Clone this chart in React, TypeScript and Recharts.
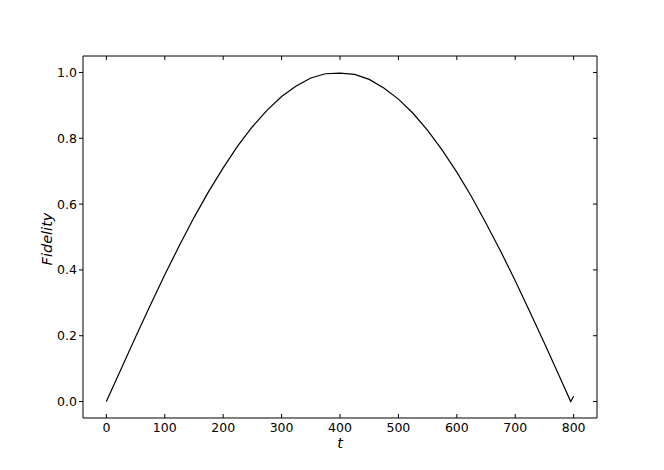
import React from "react";
import { LineChart, Line, XAxis, YAxis, Label } from "recharts";

const tValues = [0, 25, 50, 75, 100, 125, 150, 175, 200, 225, 250, 275, 300, 325, 350, 375, 400, 425, 450, 475, 500, 525, 550, 575, 600, 625, 650, 675, 700, 725, 750, 775, 795, 800];
const fidelity = [0.0, 0.098, 0.196, 0.292, 0.385, 0.474, 0.559, 0.638, 0.71, 0.777, 0.835, 0.885, 0.927, 0.959, 0.983, 0.996, 0.998, 0.994, 0.979, 0.953, 0.919, 0.876, 0.824, 0.764, 0.697, 0.623, 0.542, 0.457, 0.367, 0.273, 0.177, 0.079, 0.0, 0.016];
const xTicks = [0, 100, 200, 300, 400, 500, 600, 700, 800];
const yTicks = [0.0, 0.2, 0.4, 0.6, 0.8, 1.0];

const data = tValues.map((t, i) => ({ t, f: fidelity[i] }));

const FONT = "DejaVu Sans";
const TICK_FS = 12.5;
const LABEL_FS = 14.5;
const TL = 4;

const BottomTick = (props: any) => {
  const { x, y, payload } = props;
  return (
    <g>
      <line x1={x} x2={x} y1={y} y2={y - TL} stroke="#000" strokeWidth={1} />
      <text x={x} y={y + 4} dy="0.76em" textAnchor="middle" fontSize={TICK_FS} fontFamily={FONT} fill="#000">
        {payload.value}
      </text>
    </g>
  );
};

const TopTick = (props: any) => {
  const { x, y } = props;
  return <line x1={x} x2={x} y1={y} y2={y + TL} stroke="#000" strokeWidth={1} />;
};

const LeftTick = (props: any) => {
  const { x, y, payload } = props;
  return (
    <g>
      <line x1={x} x2={x - TL} y1={y} y2={y} stroke="#000" strokeWidth={1} />
      <text x={x - 6} y={y} dy="0.36em" textAnchor="end" fontSize={TICK_FS} fontFamily={FONT} fill="#000">
        {Number(payload.value).toFixed(1)}
      </text>
    </g>
  );
};

const RightTick = (props: any) => {
  const { x, y } = props;
  return <line x1={x} x2={x - TL} y1={y} y2={y} stroke="#000" strokeWidth={1} />;
};

const XLabel = (props: any) => {
  const vb = props.viewBox || {};
  return (
    <text x={vb.x + vb.width / 2} y={vb.y + 30} textAnchor="middle" fontSize={LABEL_FS} fontStyle="italic" fontFamily={FONT} fill="#000">
      t
    </text>
  );
};

const YLabel = (props: any) => {
  const vb = props.viewBox || {};
  const cx = vb.x + vb.width - 31;
  const cy = vb.y + vb.height / 2 + 2;
  return (
    <text x={cx} y={cy} transform={`rotate(-90 ${cx} ${cy})`} textAnchor="middle" fontSize={LABEL_FS} fontStyle="italic" fontFamily={FONT} fill="#000">
      Fidelity
    </text>
  );
};

export default function App() {
  return (
    <div style={{ position: "absolute", left: 0, top: 0, width: 664, height: 470, background: "#fff" }}>
      <LineChart width={664} height={470} data={data} margin={{ top: 55, right: 66, bottom: 51, left: 82 }}>
        <XAxis
          dataKey="t"
          type="number"
          domain={[-40, 840]}
          ticks={xTicks}
          allowDataOverflow
          height={1}
          tickSize={0}
          tickMargin={0}
          tickLine={false}
          axisLine={{ stroke: "#000", strokeWidth: 1 }}
          tick={<BottomTick />}
          interval={0}
        >
          <Label content={<XLabel />} />
        </XAxis>
        <XAxis
          xAxisId="top"
          orientation="top"
          dataKey="t"
          type="number"
          domain={[-40, 840]}
          ticks={xTicks}
          allowDataOverflow
          height={1}
          tickSize={0}
          tickMargin={0}
          tickLine={false}
          axisLine={{ stroke: "#000", strokeWidth: 1 }}
          tick={<TopTick />}
          interval={0}
        />
        <YAxis
          type="number"
          domain={[-0.05, 1.05]}
          ticks={yTicks}
          allowDataOverflow
          width={1}
          tickSize={0}
          tickMargin={0}
          tickLine={false}
          axisLine={{ stroke: "#000", strokeWidth: 1 }}
          tick={<LeftTick />}
          interval={0}
        >
          <Label content={<YLabel />} />
        </YAxis>
        <YAxis
          yAxisId="right"
          orientation="right"
          type="number"
          domain={[-0.05, 1.05]}
          ticks={yTicks}
          allowDataOverflow
          width={1}
          tickSize={0}
          tickMargin={0}
          tickLine={false}
          axisLine={{ stroke: "#000", strokeWidth: 1 }}
          tick={<RightTick />}
          interval={0}
        />
        <Line dataKey="f" type="linear" stroke="#000" strokeWidth={1.2} dot={false} isAnimationActive={false} />
      </LineChart>
    </div>
  );
}
